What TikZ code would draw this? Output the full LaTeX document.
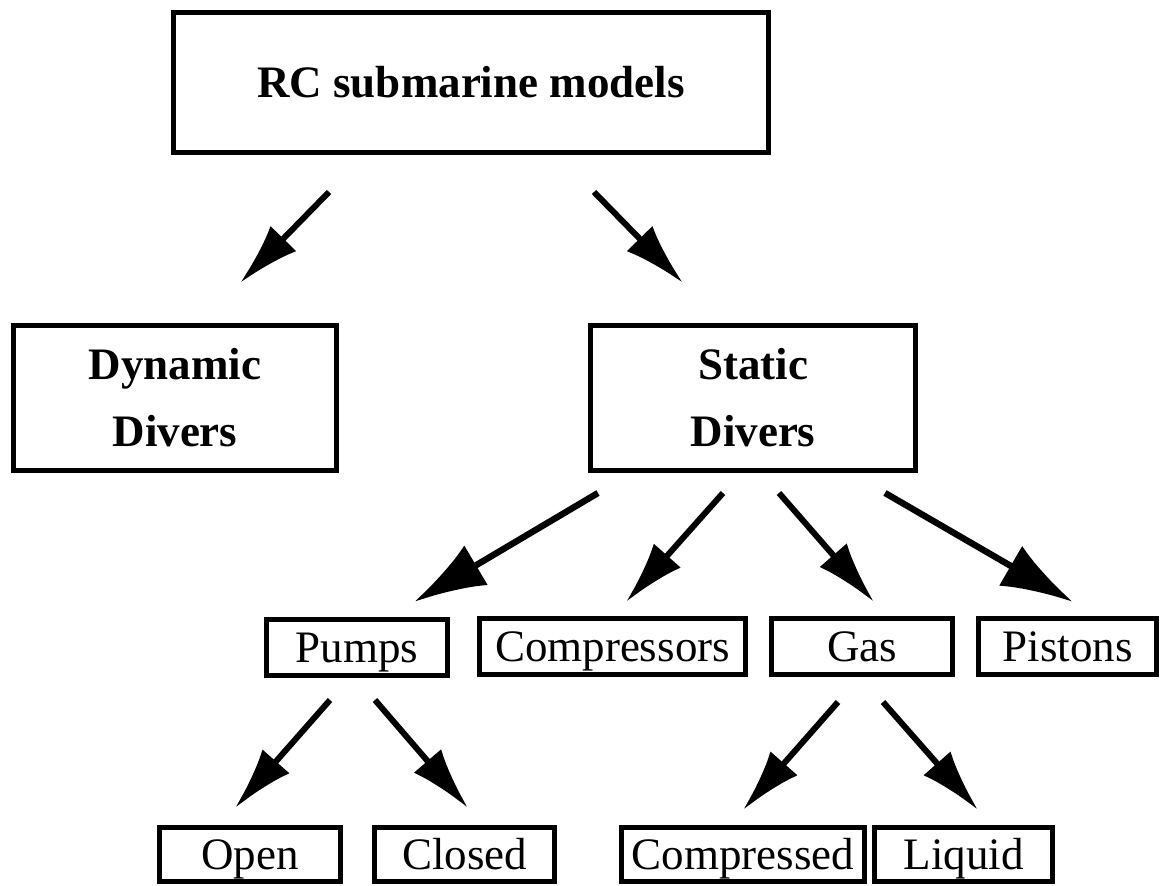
\documentclass[tikz,border=0pt]{standalone}
\usepackage{fontspec}
\setmainfont{Liberation Serif}
\usetikzlibrary{calc,arrows.meta}
\tikzset{
box/.style={draw, line width=2.5pt, inner sep=0pt, align=center, text height=15pt, text depth=0pt, font=\fontsize{22.5}{33.5}\selectfont}, % plain boxes
headbox/.style={draw, line width=2.5pt, inner sep=0pt, align=center, font=\fontsize{22.5}{33.5}\selectfont\bfseries}, % bold boxes
arr/.style={line width=3pt, -{Latex[length=31pt,width=18pt]}},
longarr/.style={line width=3.2pt, -{Latex[length=36pt,width=23pt]}},
}
\begin{document}
\begin{tikzpicture}[x=0.5pt, y=-0.5pt]
        \useasboundingbox (0,0) rectangle (1163,886);
        % levels
        \node[headbox, minimum width=297.5pt, minimum height=70pt] (rc) at (471,82.5) {RC submarine models};
        \node[headbox, minimum width=161.5pt, minimum height=72.5pt] (dynamic) at (175,398) {Dynamic\\Divers};
        \node[headbox, minimum width=162.5pt, minimum height=72.5pt] (static) at (753,398) {Static\\Divers};
        \node[box, minimum width=90.5pt, minimum height=28pt] (pumps) at (357,647.5) {Pumps};
        \node[box, minimum width=133pt, minimum height=28pt] (compr) at (612.5,646.5) {Compressors};
        \node[box, minimum width=90.5pt, minimum height=28pt] (gas) at (862,646.5) {Gas};
        \node[box, minimum width=89pt, minimum height=28pt] (pistons) at (1067.5,646.5) {Pistons};
        \node[box, minimum width=90.5pt, minimum height=27pt] (open) at (250,854.5) {Open};
        \node[box, minimum width=90pt, minimum height=27pt] (closed) at (464.5,854.5) {Closed};
        \node[box, minimum width=121.5pt, minimum height=27pt] (cmpd) at (743,854.5) {Compressed};
        \node[box, minimum width=89pt, minimum height=27pt] (liquid) at (963.5,854.5) {Liquid};
        % arrows
        \path[arr]
        ($(rc.south)+(-142,37)$) edge ($(dynamic.north)+(65,-40)$)
        ($(rc.south)+(123,37)$) edge ($(static.north)+(-70,-40)$)
        ($(static.south)+(-30,20)$) edge ($(compr.north)+(13.5,-14)$)
        ($(static.south)+(26,20)$) edge ($(gas.north)+(12,-14)$)
        ($(pumps.south)+(-27,22)$) edge ($(open.north)+(-15,-17)$)
        ($(pumps.south)+(18,22)$) edge ($(closed.north)+(3.5,-17)$)
        ($(gas.south)+(-24,25)$) edge ($(cmpd.north)+(0,-15)$)
        ($(gas.south)+(21,25)$) edge ($(liquid.north)+(14.5,-15)$);
        \path[longarr]
        ($(static.south)+(-155,20)$) edge ($(pumps.north)+(57,-15)$)
        ($(static.south)+(132,20)$) edge ($(pistons.north)+(5.5,-14)$);
\end{tikzpicture}
\end{document}
